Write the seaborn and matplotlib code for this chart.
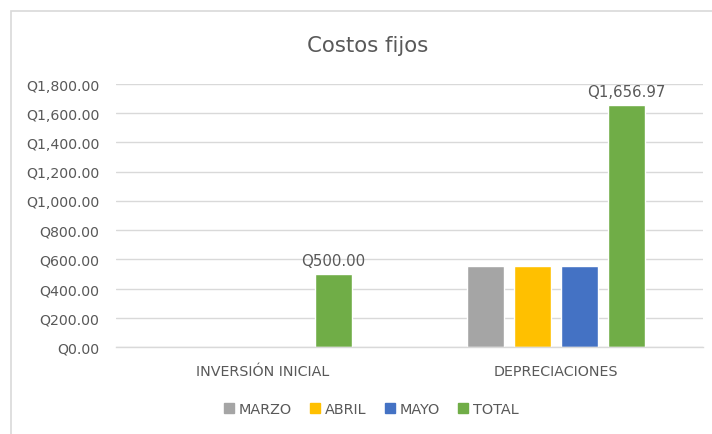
import matplotlib
matplotlib.use('Agg')

import pandas as pd
import matplotlib.pyplot as plt
import seaborn as sns
from matplotlib.patches import Patch, Rectangle
from matplotlib.ticker import FuncFormatter

# ========== DATA ==========
categorias = ['INVERSIÓN INICIAL', 'DEPRECIACIONES']
meses = ['MARZO', 'ABRIL', 'MAYO', 'TOTAL']
marzo = [0, 552.32]
abril = [0, 552.32]
mayo = [0, 552.32]
total = [500.00, 1656.97]
colores = ['#A5A5A5', '#FFC000', '#4472C4', '#70AD47']

rows = []
for serie, valores in zip(meses, [marzo, abril, mayo, total]):
    for cat, v in zip(categorias, valores):
        rows.append({'categoria': cat, 'mes': serie, 'valor': v})
df = pd.DataFrame(rows)

# ========== PLOT ==========
sns.set_theme(style='white')
plt.rcParams['font.family'] = ['DejaVu Sans']
gris = '#595959'

fig = plt.figure(figsize=(7.12, 4.35), dpi=100)
ax = fig.add_axes([116/712, 1 - 348/435, (703 - 116)/712, (348 - 85)/435])

sns.barplot(data=df, x='categoria', y='valor', hue='mes', order=categorias,
            hue_order=meses, palette=colores, width=0.64, gap=0.21,
            saturation=1, ax=ax, legend=False)

ax.set_ylim(0, 1800)
ax.set_yticks(range(0, 1801, 200))
ax.yaxis.set_major_formatter(FuncFormatter(lambda v, p: f'Q{v:,.2f}'))
ax.grid(axis='y', color='#D9D9D9', linewidth=1)
ax.set_axisbelow(True)
for s in ax.spines.values():
    s.set_visible(False)
ax.spines['bottom'].set_visible(True)
ax.spines['bottom'].set_color('#D9D9D9')
ax.spines['bottom'].set_linewidth(1)
ax.tick_params(axis='y', length=0, pad=12, labelsize=10.2, labelcolor=gris)
ax.tick_params(axis='x', length=0, pad=12, labelsize=10.3, labelcolor=gris)
ax.set_xlabel('')
ax.set_ylabel('')

# data labels only on TOTAL
ax.bar_label(ax.containers[3], labels=[f'Q{v:,.2f}' for v in total],
             padding=4, fontsize=10.8, color=gris)

fig.text(368/712, 1 - 46/435, 'Costos fijos', ha='center', va='center',
         fontsize=15.3, color=gris)

handles = [Patch(color=c, label=m) for c, m in zip(colores, meses)]
fig.legend(handles=handles, loc='center', bbox_to_anchor=(371/712, 1 - 410/435),
           ncol=4, frameon=False, fontsize=10.4, labelcolor=gris,
           handlelength=0.7, handleheight=0.7, handletextpad=0.3,
           columnspacing=1.3)

fig.patches.append(Rectangle((11/712, -0.1), 1.2, 1 - 12/435 + 0.1,
                             transform=fig.transFigure, fill=False,
                             edgecolor='#D9D9D9', linewidth=1.2))

fig.savefig('out.png', dpi=100)
